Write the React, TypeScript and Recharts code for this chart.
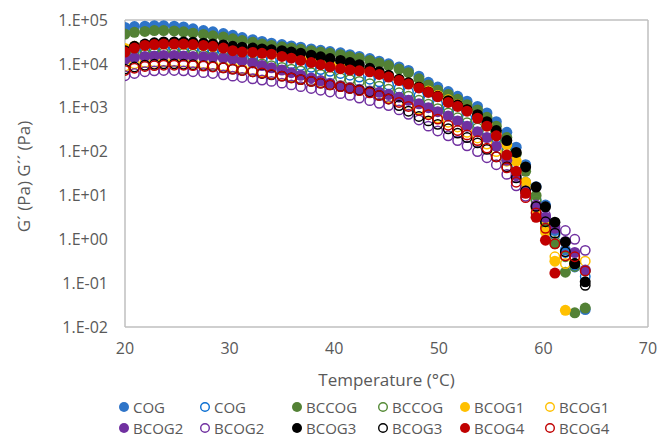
import React from 'react';
import { ScatterChart, Scatter, XAxis, YAxis, ReferenceLine } from 'recharts';

// Temperature (°C) of each measurement point
const temperatures = [20.0, 20.9, 21.9, 22.8, 23.7, 24.7, 25.6, 26.5, 27.5, 28.4, 29.4, 30.3, 31.2, 32.2, 33.1, 34.0, 35.0, 35.9, 36.8, 37.8, 38.7, 39.6, 40.6, 41.5, 42.4, 43.4, 44.3, 45.2, 46.2, 47.1, 48.1, 49.0, 49.9, 50.9, 51.8, 52.7, 53.7, 54.6, 55.5, 56.5, 57.4, 58.3, 59.3, 60.2, 61.1, 62.1, 63.0, 64.0];

// G' (filled markers)
const cogG1 = [67600, 70800, 72400, 74100, 74100, 72400, 69200, 63100, 57500, 53700, 49000, 44700, 39800, 35500, 32400, 29500, 27500, 25700, 24000, 21900, 20400, 19100, 17800, 16200, 14800, 13200, 11500, 10000, 8510, 7080, 5250, 3800, 2950, 2340, 1820, 1410, 1070, 759, 479, 275, 126, 50.1, 15.8, 6.03, 1.58, 0.575, 0.234, 0.025];
const bccogG1 = [47900, 52500, 55000, 57500, 57500, 56200, 53700, 50100, 46800, 43700, 40700, 37200, 33900, 30900, 28200, 26300, 24500, 22900, 21400, 20000, 18600, 17400, 16200, 14800, 13500, 12000, 10500, 9120, 7590, 6310, 4570, 3310, 2510, 2000, 1550, 1170, 891, 603, 380, 209, 89.1, 35.5, 10.0, 2.24, 0.79, 0.178, 0.021, 0.027];
const bcog1G1 = [22400, 25100, 26900, 28200, 28800, 28800, 28200, 27500, 26300, 25100, 23400, 21900, 20400, 19100, 17800, 16600, 15500, 14500, 13200, 12000, 11000, 10000, 9120, 8320, 7590, 6920, 6030, 5250, 4370, 3630, 2950, 2400, 1910, 1510, 1170, 912, 661, 437, 269, 145, 60.3, 20.0, 5.01, 1.48, 0.316, 0.024];
const bcog2G1 = [12600, 13800, 14800, 15100, 15500, 15500, 15100, 14800, 14500, 14100, 13500, 12900, 11700, 10500, 9120, 8130, 7240, 6310, 5500, 4790, 4170, 3630, 3160, 2880, 2630, 2400, 2240, 2000, 1740, 1480, 1230, 1000, 813, 646, 501, 380, 282, 209, 132, 63.1, 28.2, 12.6, 5.62, 3.16, 1.78, 0.89, 0.50, 0.20];
const bcog3G1 = [20000, 25100, 28200, 30200, 31600, 31600, 31600, 30900, 29500, 28200, 26900, 25100, 24000, 22900, 21900, 20900, 20000, 18600, 17400, 15800, 14500, 13200, 12000, 10700, 9550, 7940, 6610, 5500, 4470, 3720, 2950, 2290, 1820, 1450, 1150, 912, 692, 479, 302, 178, 95.5, 44.7, 15.5, 5.50, 2.45, 0.87, 0.28, 0.107];
const bcog4G1 = [18600, 22900, 26300, 27500, 28200, 28200, 28200, 27500, 26300, 25100, 22900, 20000, 18600, 18200, 17400, 16600, 14800, 13500, 12000, 10700, 9550, 8510, 7760, 7240, 6920, 6610, 5750, 5010, 4170, 3470, 2820, 2240, 1780, 1320, 1070, 832, 575, 380, 229, 83.2, 35.5, 11.2, 3.16, 0.955, 0.17];

// G'' (open markers)
const cogG2 = [16600, 20000, 21900, 22900, 23400, 23400, 22900, 21900, 20900, 20000, 18600, 17400, 15800, 14500, 13200, 12000, 11000, 10000, 9120, 8320, 7410, 6760, 6030, 5500, 5010, 4470, 3890, 3310, 2750, 2290, 1860, 1510, 1200, 955, 741, 575, 427, 302, 200, 112, 50.1, 20.0, 7.94, 3.16, 1.26, 0.50, 0.25, 0.141];
const bccogG2 = [13200, 15100, 16600, 17400, 17800, 17800, 17400, 16600, 15800, 15100, 14100, 13200, 12000, 11000, 10000, 9120, 8320, 7590, 6920, 6310, 5750, 5250, 4790, 4370, 3980, 3550, 3090, 2630, 2190, 1820, 1480, 1200, 955, 759, 589, 457, 347, 251, 166, 95.5, 44.7, 19.1, 7.59, 2.63, 0.89, 0.40, 0.24, 0.19];
const bcog1G2 = [8910, 10000, 10700, 11000, 11200, 11200, 11000, 10500, 10000, 9550, 8910, 8320, 7760, 7240, 6610, 6030, 5500, 5010, 4570, 4170, 3800, 3470, 3160, 2880, 2570, 2290, 2000, 1700, 1410, 1150, 933, 741, 589, 468, 363, 275, 204, 148, 100, 60.3, 30.2, 14.1, 5.62, 2.0, 0.40, 0.28, 0.355, 0.316];
const bcog2G2 = [5370, 6030, 6610, 6920, 7080, 7080, 6920, 6610, 6310, 6030, 5620, 5250, 4900, 4570, 4270, 3980, 3630, 3310, 3020, 2750, 2510, 2290, 2090, 1910, 1660, 1450, 1260, 1120, 891, 708, 525, 380, 295, 229, 178, 135, 100, 72.4, 50.1, 30.2, 16.6, 9.55, 6.03, 3.55, 2.0, 1.58, 1.0, 0.56];
const bcog3G2 = [7590, 8510, 9330, 9770, 10000, 10000, 9770, 9550, 9120, 8710, 8130, 7590, 7080, 6610, 6030, 5620, 5250, 4790, 4370, 3980, 3630, 3310, 3020, 2750, 2510, 2290, 1910, 1580, 1120, 832, 631, 501, 417, 331, 263, 209, 158, 112, 75.9, 44.7, 25.1, 12.6, 5.62, 2.51, 1.38, 0.52, 0.28, 0.089];
const bcog4G2 = [7080, 7940, 8710, 9120, 9330, 9330, 9330, 9120, 8910, 8510, 8130, 7590, 7080, 6610, 6170, 5750, 5250, 4790, 4370, 3980, 3630, 3310, 3020, 2750, 2450, 2190, 1910, 1580, 1320, 1070, 871, 692, 550, 398, 302, 240, 178, 120, 75.9, 42.7, 20.0, 8.91, 3.98, 1.78, 0.79, 0.42, 0.40, 0.19];

const seriesNames = ['COG', 'COG', 'BCCOG', 'BCCOG', 'BCOG1', 'BCOG1', 'BCOG2', 'BCOG2', 'BCOG3', 'BCOG3', 'BCOG4', 'BCOG4'];

const xTicks = [20, 30, 40, 50, 60, 70];
const yTicks = [0.01, 0.1, 1, 10, 100, 1000, 10000, 100000];
const yTickLabels = ['1.E-02', '1.E-01', '1.E+00', '1.E+01', '1.E+02', '1.E+03', '1.E+04', '1.E+05'];

const xTitle = 'Temperature (°C)';
const yTitle = 'G´ (Pa) G´´ (Pa)';

const series = [
  { name: seriesNames[0], values: cogG1, color: '#2E74C8', filled: true },
  { name: seriesNames[1], values: cogG2, color: '#0A6ED1', filled: false },
  { name: seriesNames[2], values: bccogG1, color: '#538135', filled: true },
  { name: seriesNames[3], values: bccogG2, color: '#548A35', filled: false },
  { name: seriesNames[4], values: bcog1G1, color: '#FFC000', filled: true },
  { name: seriesNames[5], values: bcog1G2, color: '#FFC000', filled: false },
  { name: seriesNames[6], values: bcog2G1, color: '#7030A0', filled: true },
  { name: seriesNames[7], values: bcog2G2, color: '#7030A0', filled: false },
  { name: seriesNames[8], values: bcog3G1, color: '#000000', filled: true },
  { name: seriesNames[9], values: bcog3G2, color: '#000000', filled: false },
  { name: seriesNames[10], values: bcog4G1, color: '#C00000', filled: true },
  { name: seriesNames[11], values: bcog4G2, color: '#C00000', filled: false },
];

const FONT = '"Open Sans", "Noto Sans", sans-serif';
const TEXT = '#595959';
const AXIS = '#BFBFBF';

const makeShape = (color: string, filled: boolean) => (props: any) => {
  if (props.cx == null || props.cy == null) return <g />;
  return filled ? (
    <circle cx={props.cx} cy={props.cy} r={5.5} fill={color} />
  ) : (
    <circle cx={props.cx} cy={props.cy} r={4.7} fill="none" stroke={color} strokeWidth={1.5} />
  );
};

const yFmt = (v: number) => {
  let best = 0;
  let bd = Infinity;
  yTicks.forEach((t, i) => {
    const d = Math.abs(Math.log10(t) - Math.log10(v));
    if (d < bd) { bd = d; best = i; }
  });
  return yTickLabels[best];
};

const legendCols = [124, 205, 297, 383, 465, 550];
const legendRows = [407, 428];

function LegendMarker({ color, filled }: { color: string; filled: boolean }) {
  return (
    <svg width={12} height={12} style={{ position: 'absolute', left: -6, top: -6 }}>
      {filled ? (
        <circle cx={6} cy={6} r={5} fill={color} />
      ) : (
        <circle cx={6} cy={6} r={4.3} fill="none" stroke={color} strokeWidth={1.4} />
      )}
    </svg>
  );
}

export default function App() {
  return (
    <div style={{ position: 'absolute', left: 0, top: 0, width: 657, height: 437, background: '#fff' }}>
      <ScatterChart width={657} height={437} margin={{ top: 20, right: 9, bottom: 48, left: 0 }}>
        <XAxis
          dataKey="x"
          type="number"
          domain={[20, 70]}
          ticks={xTicks}
          allowDataOverflow
          axisLine={{ stroke: AXIS, strokeWidth: 1.5 }}
          tickLine={false}
          tickSize={6}
          tickMargin={10}
          height={62}
          tick={{ fill: TEXT, fontSize: 16, fontFamily: FONT }}
          label={{
            content: (p: any) => {
              const vb = p.viewBox || { x: 125, y: 327, width: 523, height: 62 };
              return (
                <text x={vb.x + vb.width / 2} y={vb.y + vb.height - 3} textAnchor="middle" fill={TEXT} fontSize={17} fontFamily={FONT}>
                  {xTitle}
                </text>
              );
            },
          }}
        />
        <YAxis
          dataKey="y"
          type="number"
          scale="log"
          domain={[0.01, 100000]}
          ticks={yTicks}
          allowDataOverflow
          width={125}
          axisLine={{ stroke: AXIS, strokeWidth: 1.5 }}
          tickLine={false}
          tickSize={6}
          tickMargin={11}
          tickFormatter={yFmt}
          tick={{ fill: TEXT, fontSize: 16, fontFamily: FONT }}
          label={{
            content: (p: any) => {
              const vb = p.viewBox || { x: 0, y: 20, width: 125, height: 307 };
              const cx = vb.x + 23;
              const cy = vb.y + vb.height / 2 + 3;
              return (
                <text x={cx} y={cy} transform={`rotate(-90 ${cx} ${cy})`} textAnchor="middle" dominantBaseline="central" fill={TEXT} fontSize={17} fontFamily={FONT}>
                  {yTitle}
                </text>
              );
            },
          }}
        />
        <ReferenceLine y={100000} stroke={AXIS} strokeWidth={1.5} />
        <ReferenceLine x={70} stroke={AXIS} strokeWidth={1.5} />
        {series.map((s, si) => (
          <Scatter
            key={si}
            name={s.name}
            data={s.values.map((v, i) => ({ x: temperatures[i], y: v }))}
            shape={makeShape(s.color, s.filled)}
            isAnimationActive={false}
          />
        ))}
      </ScatterChart>
      {series.map((s, si) => {
        const col = Math.floor(si / 2) % 3 * 2 + (si % 2);
        const row = si < 6 ? 0 : 1;
        return (
          <div
            key={si}
            style={{ position: 'absolute', left: legendCols[col], top: legendRows[row], height: 0 }}
          >
            <LegendMarker color={s.color} filled={s.filled} />
            <span
              style={{
                position: 'absolute',
                left: 9,
                top: -11,
                fontFamily: FONT,
                fontSize: 15,
                lineHeight: '22px',
                color: TEXT,
                whiteSpace: 'nowrap',
              }}
            >
              {s.name}
            </span>
          </div>
        );
      })}
    </div>
  );
}
